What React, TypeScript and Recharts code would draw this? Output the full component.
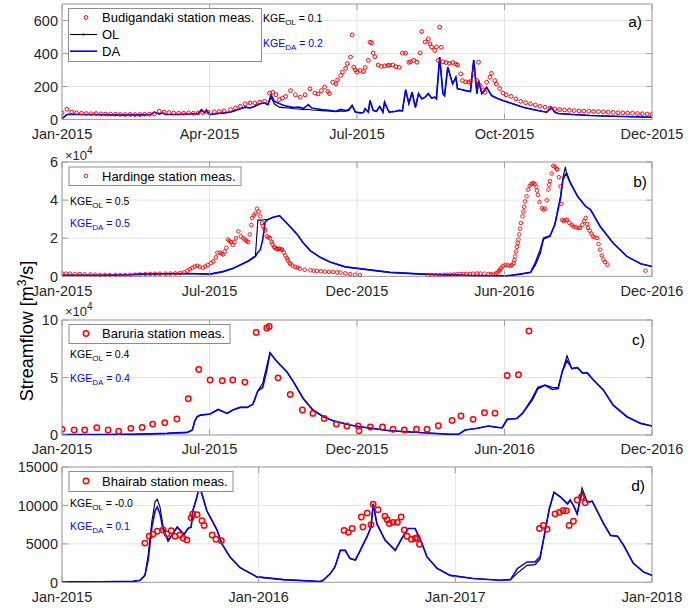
import React from 'react';
import { ComposedChart, Line, Scatter, XAxis, YAxis, CartesianGrid, ReferenceArea } from 'recharts';

const FONT = "'Liberation Sans', Arial, Helvetica, sans-serif";

// x values are days since 1 Jan 2015

// ---- a) Budigandaki ----
const aMeasDay = [0,3,6,9,12,15,18,21,24,27,
  30,33,36,39,42,45,48,51,54,57,
  60,63,66,69,72,75,78,81,84,87,
  90,94,97,100,104,107,110,113,116,119,
  122,125,128,130,132,134,136,138,141,144,
  147,150,153,156,158,160,162,164,165,167,
  169,170,172,173,175,176,178,179,180,181,
  182,184,186,187,189,190,191,192,193,195,
  197,199,201,202,204,206,208,210,212,214,
  215,217,219,221,222,224,226,227,228,230,
  231,232,233,234,235,237,239,241,243,244,
  246,247,249,251,252,254,256,257,258,260,
  261,262,264,265,267,268,270,272,274,277,
  280,283,286,289,292,295,298,301,304,307,
  310,313,316,319,322,325,328,331,334,337,
  340,343,346,349,352,355,358,361,364];
const aMeasVal = [40,62,45,40,38,36,35,36,34,33,
  33,32,31,30,31,30,30,32,32,34,
  50,45,42,40,38,38,40,38,40,42,
  45,46,48,52,60,70,80,95,100,100,
  105,110,160,165,150,120,130,140,175,150,
  135,150,186,160,155,175,196,170,157,226,
  215,240,267,287,310,339,378,513,317,300,
  287,297,290,315,358,468,465,402,380,330,
  322,325,328,330,330,320,316,402,402,347,
  350,358,347,404,533,470,489,458,440,418,
  440,358,560,438,350,345,340,345,335,330,
  277,236,228,226,230,277,236,347,206,180,
  165,226,256,280,236,215,188,160,150,140,
  125,110,102,95,88,80,75,68,64,60,
  58,56,54,52,51,50,49,48,46,45,
  43,41,40,39,38,36,35,33,31];
const aLineDay = [0,3,6,10,15,20,25,30,35,40,
  45,50,55,57,60,62,64,70,75,80,
  84,86,88,89,91,95,100,104,107,110,
  113,116,119,122,125,127,129,131,134,137,
  140,143,146,149,152,154,157,160,163,166,
  169,172,175,177,179,181,184,186,187,189,
  190,192,194,196,198,199,201,202,204,206,
  208,210,212,214,216,218,220,222,224,226,
  228,230,231,233,235,236,238,241,243,244,
  247,249,252,254,256,257,259,262,265,268,
  272,278,285,292,299,302,304,306,315,326,
  340,352,364];
const aDA = [5,30,32,30,30,30,29,28,27,27,
  27,28,30,45,32,40,30,30,32,33,
  35,60,40,58,30,35,40,45,55,65,
  75,70,80,95,100,90,150,110,97,85,
  78,72,75,68,90,70,65,60,58,55,
  50,62,55,60,85,45,40,42,65,45,
  115,55,50,79,45,105,60,44,48,50,
  55,52,180,97,165,73,157,125,135,157,
  130,135,125,378,157,145,317,216,256,186,
  180,175,170,361,157,236,157,195,145,130,
  115,95,73,58,44,73,45,36,30,24,
  20,17,14];
const aOL = [5,30,32,30,30,30,29,28,27,27,
  27,28,30,45,32,40,30,30,32,33,
  35,60,40,58,30,35,40,45,55,65,
  75,70,80,95,100,90,135,95,75,72,
  70,65,64,60,62,58,56,54,52,50,
  48,52,50,55,85,45,40,42,65,45,
  115,55,50,79,45,105,60,44,48,50,
  55,52,180,97,165,73,157,125,135,157,
  130,135,125,378,157,145,317,216,256,186,
  180,175,170,361,157,236,157,195,145,130,
  115,95,73,58,44,73,45,36,30,24,
  20,17,14];

// ---- b) Hardinge ----
const bMeasDay = [0,5,10,16,22,28,35,41,47,53,
  59,66,72,78,84,90,96,103,109,115,
  121,128,134,140,146,151,155,158,161,164,
  167,170,174,177,180,184,187,190,192,195,
  197,199,201,203,205,207,209,211,213,215,
  218,221,224,226,228,230,232,234,235,237,
  239,241,243,245,247,248,250,251,253,255,
  257,259,260,262,263,265,266,268,269,271,
  272,274,276,278,279,281,282,285,288,291,
  294,300,307,311,315,320,325,330,335,340,
  344,350,356,362,368,452,457,462,467,472,
  476,480,484,488,492,496,500,504,508,513,
  517,522,527,530,533,536,538,540,541,543,
  545,548,551,554,556,558,559,560,561,562,
  563,564,565,566,567,569,570,571,572,574,
  576,578,580,582,584,586,587,588,590,593,
  595,597,599,601,602,603,605,607,609,611,
  612,614,616,617,618,620,622,624,627,630,
  632,635,638,640,643,645,647,649,650,652,
  654,656,658,661,663,665,667,669,671,674,
  721];
const bMeasVal = [1500,1450,1400,1300,1200,1100,1000,900,800,750,
  700,700,700,750,800,900,1000,1150,1300,1350,
  1400,1450,1500,1600,1800,2200,3000,3800,4500,5200,
  5600,5000,4500,5200,6000,7000,7900,10000,12400,12500,
  12000,11500,13000,15000,19300,18500,18000,16500,18000,20000,
  23600,21000,20000,19300,18500,18000,22000,27000,30600,32000,
  33000,35500,34000,31500,28000,26500,25000,24000,21000,20500,
  20000,18000,16800,15500,15000,14500,14300,14500,14500,14200,
  14000,12500,11000,9500,8500,7200,6500,5600,5000,4500,
  4000,3500,3200,3000,2900,2700,2500,2400,2300,2100,
  2000,1600,1200,900,700,500,550,600,700,800,
  850,900,1000,1100,1200,1250,1300,1300,1400,1500,
  1500,1400,1200,1100,1000,1500,2000,2800,3500,4500,
  5500,6100,5800,5500,6000,7000,8500,10500,13000,15500,
  17500,19300,22000,25000,28000,31500,34000,36500,39300,42000,
  45500,47500,48500,49000,48500,47000,45000,42800,39000,35800,
  35000,35500,40000,45500,48000,50000,54000,58000,57500,56500,
  56000,52000,47200,38000,29700,29000,29500,29700,28000,27000,
  26200,25800,25400,25400,27000,29000,30600,27500,25400,24000,
  22500,21000,20500,20200,17000,14000,11000,8800,7500,6100,
  3000];
const bLineDay = [0,47,84,96,155,183,199,211,220,230,
  239,242,245,248,251,255,261,266,269,273,
  282,291,298,307,319,331,350,365,405,446,
  508,548,566,579,585,591,595,603,609,616,
  619,622,623,628,637,647,653,665,681,698,
  715,729];
const bDA = [600,600,900,1200,1500,1200,2500,4200,6000,7900,
  10500,12600,14000,19300,28600,30000,31000,31500,31800,30000,
  26000,21800,17600,13400,10000,7500,5000,4200,2100,1200,
  400,200,1200,2100,7300,14000,20100,21300,27100,41100,
  50700,53500,54000,49000,42000,36700,35000,26200,17500,10500,
  6600,5200];
const bOL = [600,600,900,1200,1500,1200,2500,4200,6000,8200,
  10800,29500,29500,29600,29800,30000,31000,31500,31800,30000,
  26000,21800,17600,13400,10000,7500,5000,4200,2100,1200,
  400,200,1200,2000,6000,12000,19500,21000,27500,42000,
  52000,57400,55000,49500,42000,36700,35000,26200,17500,10500,
  6600,5200];

// ---- c) Baruria ----
const cMeasDay = [0,15,28,43,57,70,85,99,112,127,
  142,156,169,183,198,211,226,240,253,256,
  267,282,297,310,324,339,352,366,367,381,
  396,409,423,438,451,465,482,493,508,522,
  535,550,564,577];
const cMeasVal = [4900,4300,4300,6400,4300,3200,5800,6600,9500,10700,
  13900,31500,57000,47800,47200,47800,46000,89200,93000,94400,
  49700,35300,21700,18800,14400,9500,7800,7800,3700,7000,
  7000,5000,4300,5000,5000,8100,12700,16500,13600,19300,
  19000,51800,52400,90400];
const cLineDay = [0,47,88,130,155,161,164,167,171,183,
  193,204,211,220,229,236,242,248,253,257,
  266,278,286,298,310,323,335,356,368,405,
  446,480,490,498,513,527,538,544,550,562,
  569,581,588,597,606,613,618,624,630,637,
  643,649,656,669,681,698,715,729];
const cDA = [300,300,600,1400,2300,4300,12000,15900,17300,18200,
  22200,18800,21700,24000,24000,26900,38400,41300,56300,71300,
  63500,54800,46200,31800,21700,15900,12400,8700,7200,3700,
  2000,600,600,4300,5800,7800,6600,6400,13600,14400,
  18800,31800,41300,43300,39600,40400,54800,64900,57700,58600,
  54000,54000,48300,39000,26000,15900,10100,7800];
const cOL = [300,300,600,1400,2300,4300,12000,15900,17300,18200,
  22200,18800,21700,24000,24000,26900,38400,45000,60000,71500,
  63500,54800,46200,31800,21700,15900,12400,8700,7200,3700,
  2000,600,600,4300,5800,7800,6600,6400,13600,14400,
  18800,30000,40000,43300,41500,41000,54800,69000,57700,58600,
  54000,54000,48300,39000,26000,15900,10100,7800];

// ---- d) Bhairab ----
const dMeasDay = [154,162,169,177,188,195,203,210,219,225,
  232,240,243,251,260,264,279,286,296,
  524,532,539,556,559,567,574,578,587,600,
  604,608,615,623,630,636,641,649,656,660,
  664,
  887,894,901,916,924,931,937,942,950,957,
  965,972];
const dMeasVal = [5100,6000,6250,6650,6800,6300,6700,6000,6150,5750,
  5500,8400,8900,8800,8000,7400,6150,5600,5400,
  6750,6500,7000,8500,7200,9000,7500,10150,9450,8600,
  8150,7650,7800,7800,8500,6800,6000,5600,5700,5800,
  4950,
  7000,7400,6900,8900,9100,9350,9300,7400,7950,10700,
  11100,10350];
const dLineDay = [0,71,132,145,154,160,167,173,177,182,
  188,197,204,214,223,227,234,240,243,251,
  255,262,269,279,288,297,312,331,362,411,
  480,485,498,507,517,526,535,545,554,567,
  574,578,585,600,619,632,643,656,669,678,
  697,721,764,814,833,846,864,879,888,896,
  905,914,926,939,944,950,957,966,976,985,
  994,1006,1019,1032,1043,1061,1080,1096];
const dDA = [50,80,120,260,900,2900,7200,9300,9800,8900,
  6800,5500,6100,7200,6500,6250,7000,7200,9300,11200,
  12500,11000,9300,8000,6800,5000,3300,1900,700,350,
  100,260,1100,2000,4150,4150,3100,2900,4150,6000,
  7200,10200,7600,5500,4150,5800,7000,7000,5000,3300,
  1800,900,500,260,350,1800,2650,2650,3300,6100,
  9500,11700,11100,10200,10700,10000,8900,11700,10400,10550,
  9300,7650,6100,6000,4850,2500,1350,900];
const dOL = [50,80,120,260,900,3500,8000,10500,10800,9800,
  7200,5300,6100,7200,6500,6250,7000,7200,9300,11200,
  12800,11000,9300,8000,6800,5000,3300,1900,700,350,
  100,260,1100,2000,4150,4150,3100,2900,4150,6000,
  7200,10200,7600,5500,4150,5800,7000,7000,5000,3300,
  1800,900,500,260,350,1200,2200,2300,3000,6100,
  9500,11700,11100,10200,10700,10000,8900,12300,10400,10550,
  9300,7650,6100,6000,4850,2500,1350,900];

// axis ticks
const ticksA = [0, 91, 182, 273, 364];
const labelsA = ['Jan-2015', 'Apr-2015', 'Jul-2015', 'Oct-2015', 'Dec-2015'];
const ticksBC = [0, 182.25, 364.5, 546.75, 729];
const labelsBC = ['Jan-2015', 'Jul-2015', 'Dec-2015', 'Jun-2016', 'Dec-2016'];
const ticksD = [0, 365.33, 730.67, 1096];
const labelsD = ['Jan-2015', 'Jan-2016', 'Jan-2017', 'Jan-2018'];

const rows = (days: number[], vals: number[]) => days.map((d, i) => ({ day: d, v: vals[i] }));

const PLOT_L = 62;
const PLOT_R = 652;
const M = 12; // top margin leaves room for the top tick label
const XH = 24;
const TICK = 6;
const BOX = '#a0a0a0';

const Panel = ({ top, h, xMax, xTicks, xLabels, yMax, yTicks, yFmt, meas, ol, da, r, sw }: any) => {
  const bottom = M + h;
  const XTick = (p: any) => {
    const idx = xTicks.indexOf(p.payload.value);
    return (
      <g>
        <line x1={p.x} x2={p.x} y1={bottom} y2={bottom - TICK} stroke={BOX} />
        <line x1={p.x} x2={p.x} y1={M} y2={M + TICK} stroke={BOX} />
        <text x={p.x} y={bottom + 9} dy="0.71em" textAnchor="middle" fontSize={14.5} fill="#262626" fontFamily={FONT}>
          {xLabels[idx]}
        </text>
      </g>
    );
  };
  const YTick = (p: any) => (
    <g>
      <line x1={PLOT_L} x2={PLOT_L + TICK} y1={p.y} y2={p.y} stroke={BOX} />
      <line x1={PLOT_R - TICK} x2={PLOT_R} y1={p.y} y2={p.y} stroke={BOX} />
      <text x={PLOT_L - 4} y={p.y} dy="0.36em" textAnchor="end" fontSize={14.5} fill="#262626" fontFamily={FONT}>
        {yFmt(p.payload.value)}
      </text>
    </g>
  );
  return (
    <div style={{ position: 'absolute', left: 0, top: top - M }}>
      <ComposedChart width={697} height={h + M + XH} margin={{ top: M, right: 697 - PLOT_R, bottom: 0, left: 0 }}>
        <CartesianGrid stroke="#e4e4e4" />
        <XAxis type="number" dataKey="day" domain={[0, xMax]} ticks={xTicks} interval={0} allowDataOverflow
          axisLine={false} tickLine={false} tickSize={0} height={XH} tick={XTick} />
        <YAxis type="number" dataKey="v" domain={[0, yMax]} ticks={yTicks} interval={0} allowDataOverflow
          axisLine={false} tickLine={false} tickSize={0} width={PLOT_L} tick={YTick} />
        <ReferenceArea x1={0} x2={xMax} y1={0} y2={yMax} fill="none" fillOpacity={0} stroke={BOX} strokeOpacity={1} />
        <Scatter data={meas} isAnimationActive={false}
          shape={(p: any) => <circle cx={p.cx} cy={p.cy} r={r} fill="none" stroke="#ff0000" strokeWidth={sw} />} />
        <Line data={ol} dataKey="v" type="linear" stroke="#000000" strokeWidth={1.1} dot={false} activeDot={false} isAnimationActive={false} />
        <Line data={da} dataKey="v" type="linear" stroke="#0000ff" strokeWidth={1.6} dot={false} activeDot={false} isAnimationActive={false} />
      </ComposedChart>
    </div>
  );
};

const Kge = ({ x, y, sub, val, color }: any) => (
  <text x={x} y={y} fontSize={10.5} fill={color} fontFamily={FONT}>
    KGE<tspan dy={3} fontSize={8}>{sub}</tspan><tspan dy={-3}>{' = ' + val}</tspan>
  </text>
);

const LegendBox = ({ x, y, w, h, children }: any) => (
  <g>
    <rect x={x + 0.5} y={y + 0.5} width={w} height={h} fill="#ffffff" stroke="#8c8c8c" />
    {children}
  </g>
);

const MeasEntry = ({ y, label, r, sw }: any) => (
  <g>
    <circle cx={86} cy={y} r={r} fill="none" stroke="#ff0000" strokeWidth={sw} />
    <text x={102} y={y + 4.6} fontSize={13} fontFamily={FONT} fill="#000">{label}</text>
  </g>
);

const fmtPlain = (v: number) => String(v);
const fmt1e4 = (v: number) => String(v / 10000);

export default function App() {
  return (
    <div style={{ position: 'absolute', left: 0, top: 0, width: 697, height: 608, background: '#fff', fontFamily: FONT }}>
      <Panel top={3.5} h={115.5} xMax={364} xTicks={ticksA} xLabels={labelsA} yMax={700} yTicks={[0, 200, 400, 600]}
        yFmt={fmtPlain} meas={rows(aMeasDay, aMeasVal)} ol={rows(aLineDay, aOL)} da={rows(aLineDay, aDA)} r={1.9} sw={1} />
      <Panel top={162.3} h={114.4} xMax={729} xTicks={ticksBC} xLabels={labelsBC} yMax={60000} yTicks={[0, 20000, 40000, 60000]}
        yFmt={fmt1e4} meas={rows(bMeasDay, bMeasVal)} ol={rows(bLineDay, bOL)} da={rows(bLineDay, bDA)} r={1.8} sw={0.9} />
      <Panel top={320} h={115} xMax={729} xTicks={ticksBC} xLabels={labelsBC} yMax={100000} yTicks={[0, 50000, 100000]}
        yFmt={fmt1e4} meas={rows(cMeasDay, cMeasVal)} ol={rows(cLineDay, cOL)} da={rows(cLineDay, cDA)} r={2.7} sw={1.5} />
      <Panel top={466.7} h={115.3} xMax={1096} xTicks={ticksD} xLabels={labelsD} yMax={15000} yTicks={[0, 5000, 10000, 15000]}
        yFmt={fmtPlain} meas={rows(dMeasDay, dMeasVal)} ol={rows(dLineDay, dOL)} da={rows(dLineDay, dDA)} r={2.7} sw={1.5} />

      <svg width={697} height={608} style={{ position: 'absolute', left: 0, top: 0, pointerEvents: 'none' }}>
        <text transform="translate(32.5,331) rotate(-90)" textAnchor="middle" fontSize={18} fontFamily={FONT} fill="#000">
          Streamflow [m<tspan dy={-7} fontSize={12}>3</tspan><tspan dy={7}>/s]</tspan>
        </text>

        {/* a) */}
        <LegendBox x={68} y={8} w={193} h={53}>
          <MeasEntry y={17.5} label="Budigandaki station meas." r={1.9} sw={1} />
          <line x1={70} x2={97} y1={34.5} y2={34.5} stroke="#000" strokeWidth={1.1} />
          <circle cx={83.5} cy={34.5} r={1.1} fill="#000" />
          <text x={102} y={39.3} fontSize={13} fontFamily={FONT}>OL</text>
          <line x1={70} x2={97} y1={51.2} y2={51.2} stroke="#0000ff" strokeWidth={1.6} />
          <text x={102} y={55.7} fontSize={13} fontFamily={FONT}>DA</text>
        </LegendBox>
        <Kge x={263} y={21.7} sub="OL" val="0.1" color="#000" />
        <Kge x={263} y={46.7} sub="DA" val="0.2" color="#0000ff" />
        <text x={642} y={27} textAnchor="end" fontSize={15.5} fontFamily={FONT}>a)</text>

        {/* b) */}
        <text x={65} y={159.5} fontSize={13} fontFamily={FONT} fill="#262626">×10<tspan dy={-6} fontSize={10}>4</tspan></text>
        <LegendBox x={68.5} y={166.5} w={172} h={18.5}>
          <MeasEntry y={176} label="Hardinge station meas." r={1.8} sw={0.9} />
        </LegendBox>
        <Kge x={70} y={205} sub="OL" val="0.5" color="#000" />
        <Kge x={70} y={226.7} sub="DA" val="0.5" color="#0000ff" />
        <text x={647} y={187} textAnchor="end" fontSize={15.5} fontFamily={FONT}>b)</text>

        {/* c) */}
        <text x={65} y={316} fontSize={13} fontFamily={FONT} fill="#262626">×10<tspan dy={-6} fontSize={10}>4</tspan></text>
        <LegendBox x={68.5} y={324} w={161} h={19}>
          <MeasEntry y={333.5} label="Baruria station meas." r={2.7} sw={1.5} />
        </LegendBox>
        <Kge x={70} y={357.7} sub="OL" val="0.4" color="#000" />
        <Kge x={70} y={381.7} sub="DA" val="0.4" color="#0000ff" />
        <text x={645} y={345} textAnchor="end" fontSize={15.5} fontFamily={FONT}>c)</text>

        {/* d) */}
        <LegendBox x={68.5} y={471} w={164} h={20}>
          <MeasEntry y={481} label="Bhairab station meas." r={2.7} sw={1.5} />
        </LegendBox>
        <Kge x={70} y={506.7} sub="OL" val="-0.0" color="#000" />
        <Kge x={70} y={530} sub="DA" val="0.1" color="#0000ff" />
        <text x={645} y={491} textAnchor="end" fontSize={15.5} fontFamily={FONT}>d)</text>
      </svg>
    </div>
  );
}
